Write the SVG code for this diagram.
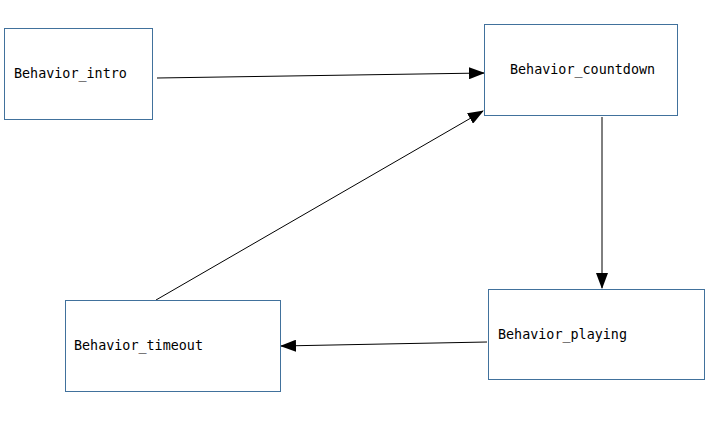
<svg xmlns="http://www.w3.org/2000/svg" width="711" height="442" viewBox="0 0 711 442">
<style>
.box{fill:#fff;stroke:#41719c;stroke-width:1}
.lbl{font-family:"DejaVu Sans Mono","Liberation Mono",monospace;font-size:13.4px;fill:#000}
.edge{stroke:#000;stroke-width:1;fill:none;marker-end:url(#arr)}
</style>
<defs>
<marker id="arr" markerWidth="16" markerHeight="12" refX="15" refY="6" orient="auto" markerUnits="userSpaceOnUse">
<path d="M0,0 L16,6 L0,12 Z" fill="#000"/>
</marker>
</defs>
<rect width="711" height="442" fill="#fff"/>
<g id="connectors">
<line class="edge" x1="157" y1="78" x2="484" y2="73"/>
<line class="edge" x1="602" y1="117" x2="602" y2="288"/>
<line class="edge" x1="487" y1="342" x2="281" y2="346"/>
<line class="edge" x1="156" y1="300" x2="483" y2="111"/>
</g>
<g id="intro">
<rect class="box" x="4.5" y="28.5" width="148" height="91"/>
<text class="lbl" x="14" y="78">Behavior_intro</text>
</g>
<g id="countdown">
<rect class="box" x="484.5" y="24.5" width="193" height="91"/>
<text class="lbl" x="510" y="74">Behavior_countdown</text>
</g>
<g id="playing">
<rect class="box" x="488.5" y="289.5" width="216" height="90"/>
<text class="lbl" x="498" y="339">Behavior_playing</text>
</g>
<g id="timeout">
<rect class="box" x="65.5" y="300.5" width="215" height="91"/>
<text class="lbl" x="74" y="350">Behavior_timeout</text>
</g>
</svg>
